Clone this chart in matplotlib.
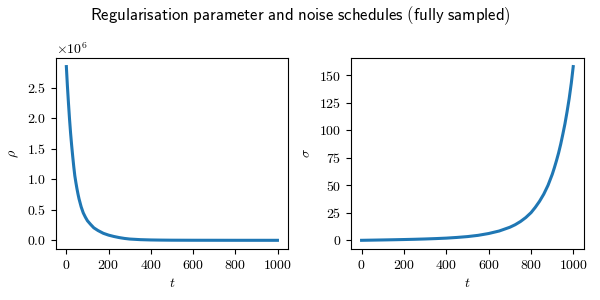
import matplotlib
matplotlib.use('Agg')
import matplotlib.pyplot as plt

plt.rcParams['mathtext.fontset'] = 'cm'
plt.rcParams['axes.formatter.use_mathtext'] = True
plt.rcParams['font.family'] = 'serif'
plt.rcParams['font.serif'] = ['cmr10', 'DejaVu Serif']
plt.rcParams['axes.unicode_minus'] = False

# values
rho_t = [0, 5, 10, 15, 20, 25, 30, 35, 40, 45, 50, 55, 60, 70, 80, 90, 100, 115, 130, 150,
         175, 200, 225, 250, 275, 300, 350, 400, 450, 500, 600, 800, 999]
rho = [2.85, 2.53, 2.25, 1.99, 1.76, 1.56, 1.38, 1.21, 1.06, 0.95, 0.85, 0.76, 0.68, 0.55,
       0.45, 0.38, 0.32, 0.26, 0.205, 0.16, 0.115, 0.085, 0.063, 0.045, 0.031, 0.021, 0.011,
       0.006, 0.0035, 0.002, 0.001, 0.0003, 0.0001]
rho = [r * 1e6 for r in rho]

sigma_t = [0, 50, 100, 150, 200, 250, 300, 350, 400, 450, 500, 550, 600, 650, 700, 725, 750,
           775, 800, 820, 840, 860, 880, 900, 910, 920, 930, 940, 950, 960, 970, 980, 990, 999]
sigma = [0.01, 0.17, 0.34, 0.52, 0.72, 0.95, 1.23, 1.58, 2.0, 2.62, 3.4, 4.53, 6.2, 8.5, 11.9,
         14.2, 17.1, 20.7, 25.2, 30, 35.5, 42, 50, 60, 66, 72.5, 79.5, 87.5, 96.5, 106, 117,
         129, 143, 158]

fig = plt.figure(figsize=(6, 3), dpi=100)
ax1 = fig.add_axes([0.093, 0.17, 0.387, 0.637])
ax2 = fig.add_axes([0.585, 0.17, 0.388, 0.637])

ax1.plot(rho_t, rho, color='#1f77b4', lw=2.2)
ax1.set_xlabel('$t$')
ax1.set_ylabel(r'$\rho$')
ax1.set_yticks([0, 0.5e6, 1.0e6, 1.5e6, 2.0e6, 2.5e6])

ax2.plot(sigma_t, sigma, color='#1f77b4', lw=2.2)
ax2.set_xlabel('$t$')
ax2.set_ylabel(r'$\sigma$')
ax2.set_yticks([0, 25, 50, 75, 100, 125, 150])

for ax in (ax1, ax2):
    ax.set_xticks([0, 200, 400, 600, 800, 1000])

fig.suptitle(r'$\mathsf{Regularisation\ parameter\ and\ noise\ schedules\ (fully\ sampled)}$',
             fontsize=12, y=0.985)

plt.savefig('out.png')
